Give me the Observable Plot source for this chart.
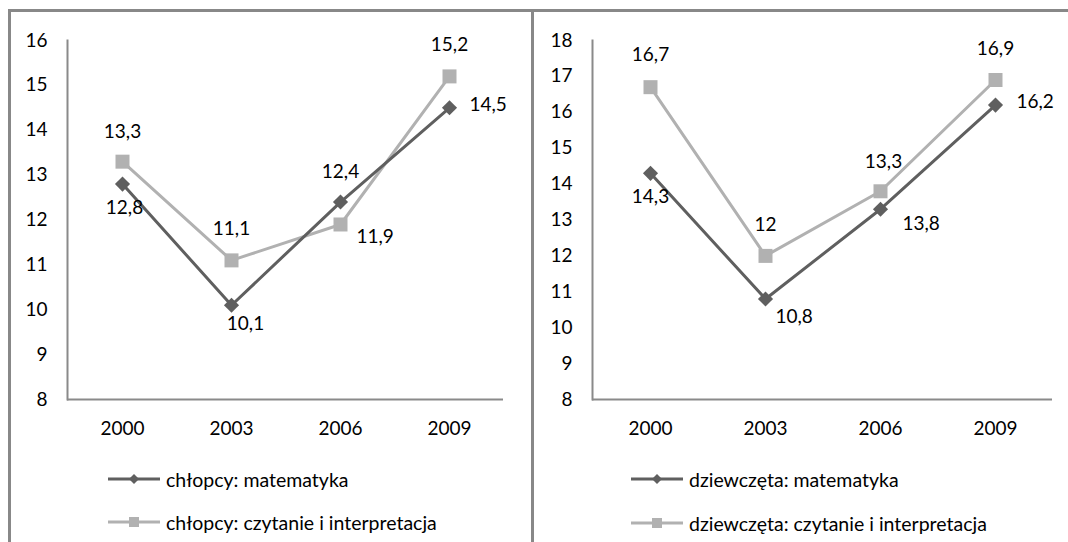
<!DOCTYPE html>
<html>
<head>
<meta charset="utf-8">
<script src="https://cdn.jsdelivr.net/npm/d3@7"></script>
<script src="https://cdn.jsdelivr.net/npm/@observablehq/plot@0.6"></script>
<style>
  body { margin: 0; background: #fff; }
  #wrap { position: relative; width: 1068px; height: 542px; overflow: hidden; font-family: Lato, "Open Sans", sans-serif; }
  .panel { position: absolute; top: 9px; height: 540px; border-top: 3px solid #888; border-left: 3px solid #888; box-sizing: border-box; }
  .chart { position: absolute; top: 0; z-index: 1; }
  .legend-row { position: absolute; display: flex; align-items: center; height: 24px; font-size: 19.5px; color: #000; white-space: nowrap; z-index: 1; }
  .legend-row svg { display: block; margin-right: 6px; }
</style>
</head>
<body>
<div id="wrap">
  <div class="panel" style="left:8px;width:523px"></div>
  <div class="panel" style="left:531px;width:540px"></div>
</div>
<script>
// Survey years and the share of pupils per group and subject
const years = ["2000", "2003", "2006", "2009"];
const boysMath = [12.8, 10.1, 12.4, 14.5];
const boysReading = [13.3, 11.1, 11.9, 15.2];
const girlsMath = [14.3, 10.8, 13.3, 16.2];
const girlsReading = [16.7, 12.0, 13.8, 16.9];

// Series names shown in the legends
const boysNames = ["chłopcy: matematyka", "chłopcy: czytanie i interpretacja"];
const girlsNames = ["dziewczęta: matematyka", "dziewczęta: czytanie i interpretacja"];

// Value axis ticks
const boysTicks = [8, 9, 10, 11, 12, 13, 14, 15, 16];
const girlsTicks = [8, 9, 10, 11, 12, 13, 14, 15, 16, 17, 18];

const MATH = "#5f5f5f";
const READ = "#b1b1b1";
const FONT = 19;

// Label placement per point: [dx, dy, textAnchor]
const boysLabelPos = {
  math: [[2, 24, "middle"], [14, 19, "middle"], [0, -30, "middle"], [20, -3, "start"]],
  read: [[0, -30, "middle"], [0, -31, "middle"], [16, 12, "start"], [0, -31, "middle"]]
};
const girlsLabelPos = {
  math: [[0, 24, "middle"], [10, 18, "start"], [3, -47, "middle"], [21, -3, "start"]],
  read: [[0, -32, "middle"], [0, -31, "middle"], [22, 33, "start"], [0, -31, "middle"]]
};

const fmt = v => String(v).replace(".", ",");

function rows(values) {
  return years.map((year, i) => ({year, value: values[i]}));
}

function labelMarks(data, pos) {
  return data.map((d, i) => Plot.text([d], {
    x: "year", y: "value", text: r => fmt(r.value),
    dx: pos[i][0], dy: pos[i][1], textAnchor: pos[i][2], lineAnchor: "middle",
    fill: "#000", fontSize: FONT
  }));
}

function panel({left, width, marginLeft, marginRight, ticks, math, read, mathPos, readPos}) {
  const m = rows(math), r = rows(read);
  const chart = Plot.plot({
    width, height: 450,
    marginLeft, marginRight, marginTop: 40, marginBottom: 51,
    style: {background: "transparent", fontFamily: "Lato, 'Open Sans', sans-serif", fontSize: FONT + "px", color: "#000", overflow: "visible"},
    x: {type: "point", domain: years, padding: 0.5, label: null},
    y: {domain: [ticks[0], ticks[ticks.length - 1]], label: null},
    marks: [
      Plot.axisY({ticks, tickSize: 0, tickPadding: 20, tickFormat: d => String(d), label: null}),
      Plot.axisX({tickSize: 0, tickPadding: 22, label: null}),
      Plot.frame({anchor: "left", stroke: "#8a8a8a", strokeWidth: 2}),
      Plot.ruleY([ticks[0]], {stroke: "#8a8a8a", strokeWidth: 2}),
      Plot.line(r, {x: "year", y: "value", stroke: READ, strokeWidth: 3}),
      Plot.line(m, {x: "year", y: "value", stroke: MATH, strokeWidth: 3}),
      Plot.dot(r, {x: "year", y: "value", symbol: "square", r: 7.9, fill: READ}),
      Plot.dot(m, {x: "year", y: "value", symbol: "diamond2", r: 6.8, fill: MATH}),
      ...labelMarks(r, readPos),
      ...labelMarks(m, mathPos)
    ]
  });
  chart.classList.add("chart");
  chart.style.left = left + "px";
  document.getElementById("wrap").appendChild(chart);
}

function legendRow(left, cy, label, color, kind) {
  const row = document.createElement("div");
  row.className = "legend-row";
  row.style.left = left + "px";
  row.style.top = (cy - 12) + "px";
  const svg = d3.create("svg").attr("width", 52).attr("height", 14);
  svg.append("line").attr("x1", 0).attr("x2", 52).attr("y1", 7).attr("y2", 7)
    .attr("stroke", color).attr("stroke-width", 3);
  if (kind === "diamond") {
    svg.append("path").attr("d", "M26,2L31,7L26,12L21,7Z").attr("fill", color);
  } else {
    svg.append("rect").attr("x", 21).attr("y", 2).attr("width", 10).attr("height", 10).attr("fill", color);
  }
  row.appendChild(svg.node());
  const span = document.createElement("span");
  span.textContent = label;
  row.appendChild(span);
  document.getElementById("wrap").appendChild(row);
}

panel({left: 0, width: 531, marginLeft: 67, marginRight: 28, ticks: boysTicks,
  math: boysMath, read: boysReading, mathPos: boysLabelPos.math, readPos: boysLabelPos.read});
panel({left: 531, width: 537, marginLeft: 61, marginRight: 16, ticks: girlsTicks,
  math: girlsMath, read: girlsReading, mathPos: girlsLabelPos.math, readPos: girlsLabelPos.read});

legendRow(108, 479, boysNames[0], MATH, "diamond");
legendRow(108, 522, boysNames[1], READ, "square");
legendRow(631, 479, girlsNames[0], MATH, "diamond");
legendRow(631, 523, girlsNames[1], READ, "square");
</script>
</body>
</html>
